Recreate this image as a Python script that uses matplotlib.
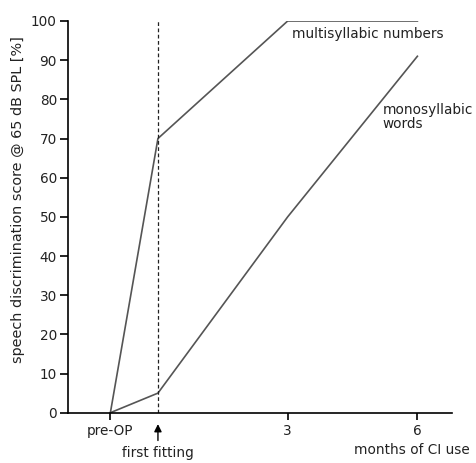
import matplotlib.pyplot as plt

# months relative to first fitting (pre-OP sits a bit before it)
x_pos = [-1.1, 0, 3, 6]
multisyllabic = [0, 70, 100, 100]
monosyllabic = [0, 5, 50, 91]
y_ticks = list(range(0, 101, 10))
x_tick_pos = [-1.1, 3, 6]
x_tick_labels = ["pre-OP", "3", "6"]

plt.rcParams["font.family"] = ["DejaVu Sans"]
txt = "#222222"
fs = 9.8

fig = plt.figure(figsize=(4.77, 4.63), dpi=100)
ax = fig.add_axes([68 / 477, 1 - 412.7 / 463, (452 - 68) / 477, (412.7 - 21) / 463])

ax.plot(x_pos, multisyllabic, color="#555555", lw=1.2)
ax.plot(x_pos, monosyllabic, color="#555555", lw=1.2)
ax.axvline(0, color="#222222", lw=0.9, ls=(0, (3, 2)))

ax.set_xlim(-2.08, 6.8)
ax.set_ylim(0, 100)
for s in ["top", "right"]:
    ax.spines[s].set_visible(False)
ax.spines["left"].set_linewidth(1.2)
ax.spines["bottom"].set_linewidth(1.2)

ax.set_yticks(y_ticks)
ax.set_xticks(x_tick_pos)
ax.set_xticklabels(x_tick_labels)
ax.tick_params(axis="both", labelsize=fs, labelcolor=txt, width=1.2)
ax.tick_params(axis="y", length=6, pad=2)
ax.tick_params(axis="x", length=5, pad=3)

ax.set_ylabel("speech discrimination score @ 65 dB SPL [%]", fontsize=10.4,
              color=txt)
ax.yaxis.set_label_coords(-43 / 384, 0.545)

ax.annotate("", xy=(0, -2.2), xytext=(0, -7.8), annotation_clip=False,
            arrowprops=dict(arrowstyle="-|>", color="black", lw=1.0,
                            mutation_scale=11))
ax.text(0, -10.3, "first fitting", ha="center", va="center", fontsize=fs,
        color=txt, clip_on=False)
ax.text(7.2, -9.5, "months of CI use", ha="right", va="center", fontsize=fs,
        color=txt, clip_on=False)

ax.text(3.1, 96.8, "multisyllabic numbers", ha="left", va="center",
        fontsize=fs, color=txt)
ax.text(5.2, 75.5, "monosyllabic\nwords", ha="left", va="center",
        fontsize=fs, color=txt, linespacing=1.05)

fig.savefig("out.png", dpi=100)
